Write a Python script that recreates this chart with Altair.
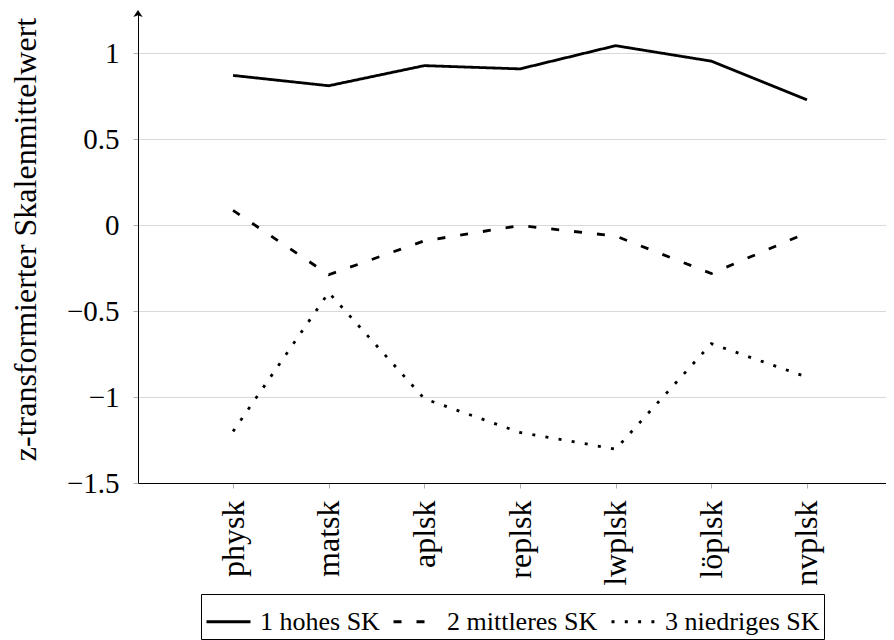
import altair as alt
import pandas as pd

categories = ["physk", "matsk", "aplsk", "replsk", "lwplsk", "löplsk", "nvplsk"]
groups = ["1 hohes SK", "2 mittleres SK", "3 niedriges SK"]
hohes = [0.870, 0.810, 0.927, 0.908, 1.043, 0.953, 0.728]
mittleres = [0.085, -0.289, -0.092, -0.003, -0.064, -0.282, -0.045]
niedriges = [-1.200, -0.392, -1.010, -1.206, -1.303, -0.690, -0.884]
y_ticks = [-1.5, -1, -0.5, 0, 0.5, 1]

rows = []
for g, vals in zip(groups, [hohes, mittleres, niedriges]):
    for c, v in zip(categories, vals):
        rows.append({"Skala": c, "Gruppe": g, "Wert": v})
df = pd.DataFrame(rows)

FONT = "Liberation Serif"

lines = alt.Chart(df).mark_line(color="black", strokeWidth=2.8).encode(
    x=alt.X(
        "Skala:N",
        sort=categories,
        scale=alt.Scale(type="point", padding=0.91, align=0.546),
        axis=alt.Axis(
            title=None,
            labelAngle=-90,
            labelFont=FONT,
            labelFontSize=32,
            labelColor="black",
            labelPadding=12,
            tickSize=5,
            tickColor="#b0b0b0",
            domainColor="black",
            domainWidth=1,
            grid=False,
        ),
    ),
    y=alt.Y(
        "Wert:Q",
        scale=alt.Scale(domain=[-1.5, 1.233], nice=False, zero=False),
        axis=alt.Axis(
            values=y_ticks,
            format=".1~f",
            title="z-transformierter Skalenmittelwert",
            titleFont=FONT,
            titleFontSize=32,
            titleFontWeight="normal",
            titleColor="black",
            titleX=-113,
            titleY=226,
            titleAlign="center",
            titleBaseline="middle",
            labelFont=FONT,
            labelFontSize=29,
            labelColor="black",
            labelPadding=14,
            tickSize=5,
            tickColor="#b0b0b0",
            domainColor="black",
            domainWidth=1,
            grid=True,
            gridColor="#d9d9d9",
            gridWidth=1,
        ),
    ),
    strokeDash=alt.StrokeDash(
        "Gruppe:N",
        sort=groups,
        scale=alt.Scale(domain=groups, range=[[1, 0], [8, 15], [3, 10.3]]),
        legend=alt.Legend(
            orient="none",
            legendX=63,
            legendY=581,
            direction="horizontal",
            title=None,
            symbolType="stroke",
            symbolSize=1936,
            symbolStrokeWidth=2.8,
            symbolStrokeColor="black",
            labelFont=FONT,
            labelFontSize=26,
            labelColor="black",
            labelOffset=8,
            labelLimit=400,
            columnPadding=7,
            strokeColor="black",
            padding=4,
        ),
    ),
)

arrow = alt.Chart(pd.DataFrame({"a": [0]})).mark_point(
    shape="M0,-1 L1.33,1 L0,0.5 L-1.33,1 Z",
    filled=True,
    color="black",
    opacity=1,
    size=49,
).encode(x=alt.value(0), y=alt.value(0.5))

chart = alt.layer(lines, arrow).properties(
    width=748,
    height=470,
    autosize=alt.AutoSizeParams(type="none"),
    padding={"left": 130, "top": 5, "right": 0, "bottom": 165},
    background="white",
).configure_view(stroke=None)

chart.save("out.html", embed_options={"renderer": "svg", "actions": False})
